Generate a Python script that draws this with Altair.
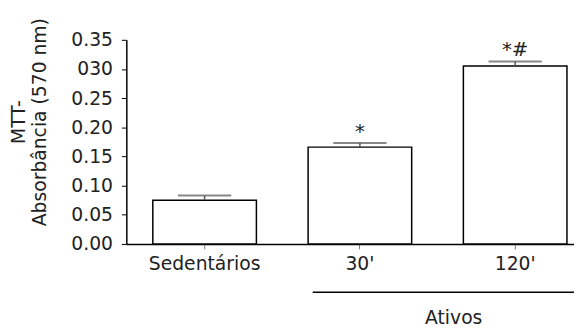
import altair as alt
import pandas as pd

groups = ["Sedentários", "30'", "120'"]
means = [0.075, 0.166, 0.305]
sems = [0.008, 0.007, 0.008]
marks = ["", "*", "*#"]
y_ticks = [0.0, 0.05, 0.10, 0.15, 0.20, 0.25, 0.30, 0.35]

df = pd.DataFrame({"grupo": groups, "media": means, "sem": sems, "sig": marks})
df["top"] = df["media"] + df["sem"]

FONT = "DejaVu Sans"
FS = 19

x_axis = alt.Axis(
    title=None, labelAngle=0, labelFontSize=FS, labelFont=FONT, labelColor="#222",
    tickSize=5, tickColor="#777", domainColor="#000", domainWidth=1.5,
    labelPadding=6, labelOverlap=False,
)
x_scale = alt.Scale(paddingInner=0.333, paddingOuter=0.108, align=0.79)
y_axis = alt.Axis(
    values=y_ticks,
    labelExpr="datum.value == 0.3 ? '030' : format(datum.value, '.2f')",
    labelFontSize=FS, labelFont=FONT, labelColor="#222", labelOverlap=False,
    tickSize=5, tickColor="#000", domainColor="#000", domainWidth=1.5,
    labelPadding=9, grid=False,
    title=["MTT-", "Absorbância (570 nm)"],
    titleFont=FONT, titleFontSize=19, titleFontWeight="normal",
    titleColor="#222", titleLineHeight=21,
    titleAngle=270, titleX=-118, titleY=83, titleBaseline="top", titleAlign="center",
)
y_scale = alt.Scale(domain=[0, 0.35], nice=False)


def xe():
    return alt.X("grupo:N", sort=groups, scale=x_scale, axis=x_axis)


def ye(field):
    return alt.Y(field, scale=y_scale, axis=y_axis)


bars = alt.Chart(df).mark_bar(fill="white", stroke="black", strokeWidth=1.5).encode(
    x=xe(), y=ye("media:Q"),
)

err = alt.Chart(df).mark_rule(color="#555", strokeWidth=1.5).encode(
    x=xe(), y=ye("media:Q"), y2="top:Q",
)

caps = alt.Chart(df).mark_tick(color="#555", thickness=2, size=54, orient="horizontal").encode(
    x=xe(), y=ye("top:Q"),
)

sig_text = alt.Chart(df).mark_text(font=FONT, fontSize=20, color="#222", baseline="bottom", dy=-1).encode(
    x=xe(), y=ye("top:Q"), text="sig:N",
)

one = alt.Data(values=[{}])
ativos_line = alt.Chart(one).mark_rule(color="#000", strokeWidth=1.5).encode(
    x=alt.value(189), x2=alt.value(454), y=alt.value(256)
)
ativos_text = alt.Chart(one).mark_text(
    text="Ativos", font=FONT, fontSize=FS, color="#222", baseline="middle"
).encode(x=alt.value(332), y=alt.value(282))

chart = alt.layer(bars, err, caps, sig_text, ativos_line, ativos_text).properties(
    width=454, height=207,
    padding={"left": 120, "top": 30, "right": 0, "bottom": 84},
    autosize="none",
    background="white",
).configure_view(stroke=None)

chart.save("out.html", embed_options={"renderer": "svg", "actions": False})
